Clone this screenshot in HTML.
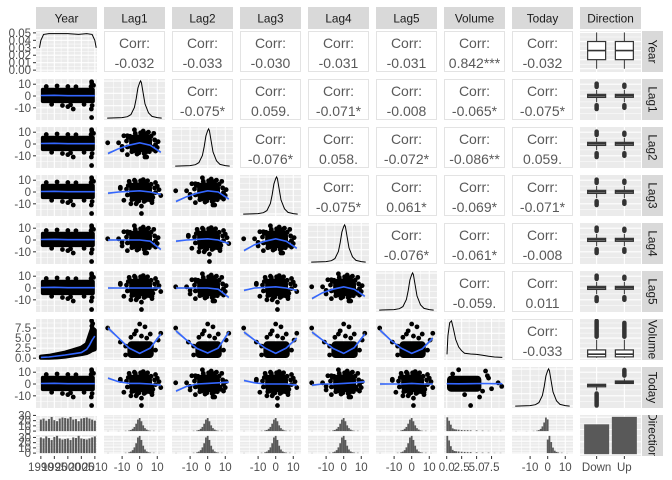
<!DOCTYPE html>
<html><head><meta charset="utf-8">
<style>
body{margin:0;background:#fff;}
svg{display:block;font-family:"Liberation Sans",Arial,sans-serif;}
</style></head>
<body>
<svg id="chart" width="672" height="480" viewBox="0 0 672 480"></svg>
<script>
// ---------- data ----------
const varNames = ['Year','Lag1','Lag2','Lag3','Lag4','Lag5','Volume','Today','Direction'];
const corrTop = [
 [null,'-0.032','-0.033','-0.030','-0.031','-0.031','0.842***','-0.032'],
 [null,null,'-0.075*','0.059.','-0.071*','-0.008','-0.065*','-0.075*'],
 [null,null,null,'-0.076*','0.058.','-0.072*','-0.086**','0.059.'],
 [null,null,null,null,'-0.075*','0.061*','-0.069*','-0.071*'],
 [null,null,null,null,null,'-0.076*','-0.061*','-0.008'],
 [null,null,null,null,null,null,'-0.059.','0.011'],
 [null,null,null,null,null,null,null,'-0.033']
];
const yearDensX = [1989.5,1990,1991,1993,1996,2000,2004,2007,2009,2010,2010.5];
const yearDensY = [0.030,0.040,0.048,0.049,0.049,0.049,0.048,0.049,0.048,0.040,0.030];
const lagDensX = [-18.5,-10,-7,-5,-3,-2,-1,0,0.5,1,2,3,5,7,10,12.5];
const lagDensY = [0,0.003,0.008,0.02,0.06,0.11,0.17,0.2,0.21,0.2,0.14,0.08,0.03,0.01,0.003,0];
const volDensX = [0.05,0.2,0.5,0.8,1.1,1.5,2,2.5,3,4,5,6,7,8,9.3];
const volDensY = [0.1,0.6,0.95,1.0,0.8,0.5,0.3,0.2,0.13,0.11,0.1,0.08,0.05,0.03,0.02];
const smoothLagX = [-18,-12,-6,0,6,12];
const smoothLagLag = {
 '2-1':[-8,-4,-1,1,-1,-7],
 '3-1':[-1,0,0.5,1,0,-2], '3-2':[-8,-4,-1,1,0,-6],
 '4-1':[0,0,0,0,-1,-8], '4-2':[-1,0,0.5,1,0,-3], '4-3':[-9,-4,-1,1,-1,-7],
 '5-1':[0,0,0,0,0,0], '5-2':[0,0,0,0,-1,-8], '5-3':[-2,0,0.5,1,0,-2], '5-4':[-9,-4,-1,1,-1,-7],
 '7-1':[5,2,0.5,0.5,0,-1], '7-2':[-6,-2,0,0.5,1,1.5], '7-3':[3,1,0,0,0,-1], '7-4':[-1,0,0,0.5,1,2], '7-5':[0,0,0,0.5,0,0]
};
const smoothVolLag = {
 '1':[7.5,5,2.5,1.2,2.5,6], '2':[6.8,4.5,2.4,1.3,2.5,6.5], '3':[6.5,4.5,2.5,1.2,2.5,5],
 '4':[6.5,4.5,2.4,1.2,2.6,6], '5':[7,4.5,2.5,1.2,2.3,5]
};
const yearsX = [1990,1993,1996,1999,2002,2005,2007,2008,2009,2010];
const volLo = [0.09,0.1,0.2,0.4,0.7,1.0,1.3,1.6,2.0,2.2];
const volHi = [0.4,0.6,1.0,1.4,2.0,2.6,3.5,5.5,7.5,7];
const volSmooth = [0.2,0.3,0.55,0.8,1.1,1.4,2.2,3.2,4.5,5.5];
const lagOutliers = [[-18.2,1],[12,-3],[10.5,2],[-11,3],[8,9],[-9,-7],[9,-6],[1,-12],[2,11],[-3,10],[-7,7],[7,-9],[-10,-2],[10,5],[4,-11],[-5,-10]];
const blobEdge = [[-8,2],[-7.5,-3],[-6,6],[-5,-7],[-3,8.5],[0,9],[2,8],[4,9],[6,6],[8,3],[8.5,-1],[7,-5],[5,-7],[2,-8.5],[-1,-8],[-4,-6.5],[-7,5],[3,-7.5],[6.5,-3],[-2,-9]];
const yearOutliers = [[2008.8,-18.2],[2008.8,12],[2008.9,10.5],[2008.7,-11],[2002,-11],[2000,-9],[2008.6,8],[1998,-8],[2009.5,9]];
const yrDown = [22,24,20,23,27,21,19,24,26,25,24,27,22,23,19,24,25,26,24,22,20];
const yrUp = [30,28,32,29,25,31,33,28,26,27,28,25,30,29,33,28,27,26,28,30,32];
const lagBins = [-18,-12,-8,-6,-5,-4,-3,-2,-1,0,1,2,3,4,5,6,8,11];
const lagHistDown = [1,1,2,4,7,14,25,45,70,80,60,35,18,9,4,2,2,1];
const lagHistUp   = [1,0,2,5,9,18,35,60,95,105,80,45,22,10,5,3,2,1];
const todayHistDown = [1,1,2,4,8,18,38,70,110,95,0,0,0,0,0,0,0,0];
const todayHistUp   = [0,0,0,0,0,0,0,0,0,110,140,90,45,20,10,5,3,1];
const volBins = [0.1,0.4,0.7,1.0,1.3,1.6,2.0,2.5,3,3.5,4,5,6,7,8,9];
const volHistDown = [60,45,28,12,8,7,6,5,4,4,3,3,2,1,1,1];
const volHistUp   = [75,55,30,14,9,8,7,6,5,4,4,3,2,2,1,1];
const dirCounts = [484,605];
// box stats: [lowWhisker,q1,median,q3,highWhisker,minOut,maxOut]
const boxYearDown = [1990,1995,2000,2005,2010,null,null];
const boxYearUp = [1990,1995,2000,2005,2010,null,null];
const boxLagDown = [-5.3,-1.2,0.2,1.4,5.2,-11,10.5];
const boxLagUp = [-5.3,-1.1,0.25,1.4,5.3,-10,9.5];
const boxVolDown = [0.09,0.33,1.0,2.05,4.6,4.8,9.3];
const boxVolUp = [0.09,0.33,1.0,2.05,4.6,4.8,8.8];
const boxTodayDown = [-5.5,-2.1,-1.2,-0.5,0,-18.2,-6];
const boxTodayUp = [0,0.7,1.4,2.3,4.6,5,12];
const dirs = ['Down','Up'];

// ---------- layout ----------
const NS='http://www.w3.org/2000/svg';
const svg=document.getElementById('chart');
const X0=36, PW=61, PITCH=68, Y0=31, PH=41, RP=48;
const colX=i=>X0+i*PITCH, rowY=i=>Y0+i*RP;
const doms={Year:[1988.2,2010.8],Lag:[-20.3,14.4],Volume:[-0.45,9.75],Direction:[0.4,2.6]};
const domOf=v=>(v.startsWith('Lag')||v==='Today')?doms.Lag:doms[v];
function mk(tag,attrs,parent){const e=document.createElementNS(NS,tag);for(const k in attrs)e.setAttribute(k,attrs[k]);(parent||svg).appendChild(e);return e;}
function lin(d,r0,r1){return v=>r0+(v-d[0])/(d[1]-d[0])*(r1-r0);}
function ticksFor(v){
 if(v==='Year')return {maj:[1990,1995,2000,2005,2010],min:[1992.5,1997.5,2002.5,2007.5],lab:['1990','1995','2000','2005','2010']};
 if(v==='Volume')return {maj:[0,2.5,5,7.5],min:[1.25,3.75,6.25,8.75],lab:['0.0','2.5','5.0','7.5']};
 if(v==='Direction')return {maj:[1,2],min:[],lab:['Down','Up']};
 return {maj:[-10,0,10],min:[-15,-5,5],lab:['-10','0','10']};
}
function panelBg(g,x,y,w,h,vx,vy,sx,sy){
 mk('rect',{x:x,y:y,width:w,height:h,fill:'#ebebeb'},g);
 if(vx){const t=ticksFor(vx);t.min.forEach(v=>mk('line',{x1:sx(v),x2:sx(v),y1:y,y2:y+h,stroke:'#fff','stroke-width':0.5},g));t.maj.forEach(v=>mk('line',{x1:sx(v),x2:sx(v),y1:y,y2:y+h,stroke:'#fff','stroke-width':1.1},g));}
 if(vy){let mj,mn;if(Array.isArray(vy)){mj=vy[0];mn=vy[1];}else{const t=ticksFor(vy);mj=t.maj;mn=t.min;}
  mn.forEach(v=>mk('line',{x1:x,x2:x+w,y1:sy(v),y2:sy(v),stroke:'#fff','stroke-width':0.5},g));mj.forEach(v=>mk('line',{x1:x,x2:x+w,y1:sy(v),y2:sy(v),stroke:'#fff','stroke-width':1.1},g));}
}
function clip(id,x,y,w,h){const cp=mk('clipPath',{id:id});mk('rect',{x:x,y:y,width:w,height:h},cp);return 'url(#'+id+')';}
function pathD(xs,ys,sx,sy){return xs.map((v,i)=>(i?'L':'M')+sx(v).toFixed(1)+','+sy(ys[i]).toFixed(1)).join('');}
function smoothPath(g,xs,ys,sx,sy,band){
 const up=xs.map((v,i)=>ys[i]+band*(i===0||i===xs.length-1?1:0.3));
 const lo=xs.map((v,i)=>ys[i]-band*(i===0||i===xs.length-1?1:0.3));
 const d=pathD(xs,up,sx,sy)+xs.slice().reverse().map((v,i)=>'L'+sx(v).toFixed(1)+','+sy(lo[xs.length-1-i]).toFixed(1)).join('')+'Z';
 const rb=mk('path',{d:d,fill:'#999','fill-opacity':0.4},g);
 
 
 const ln=mk('path',{d:pathD(xs,ys,sx,sy),fill:'none',stroke:'#3366FF','stroke-width':1.6},g);
 
 
}
function dot(g,x,y,r){const c=mk('circle',{cx:x,cy:y,r:r||2.4,fill:'#000'},g);return c;}
function lagBlob(g,sx,sy,cx,cy,kx,ky){
 mk('rect',{x:sx(cx-6.5*kx),y:sy(cy+7.5*ky),width:sx(cx+6.5*kx)-sx(cx-6.5*kx),height:sy(cy-7.5*ky)-sy(cy+7.5*ky),rx:5,fill:'#000'},g);
 blobEdge.forEach(p=>dot(g,sx(cx+p[0]*kx),sy(cy+p[1]*ky)));
}

// strips
for(let c=0;c<9;c++){
 const g=mk('g',{});
 
 
 mk('rect',{x:colX(c),y:7,width:PW,height:22,fill:'#d9d9d9'},g);
 const t=mk('text',{x:colX(c)+PW/2,y:22.5,'text-anchor':'middle','font-size':11.8,fill:'#1a1a1a'},g);t.textContent=varNames[c];
}
for(let r=0;r<9;r++){
 const g=mk('g',{});
 
 
 const cp=clip('rs'+r,642,rowY(r),21,PH);
 mk('rect',{x:642,y:rowY(r),width:21,height:PH,fill:'#d9d9d9'},g);
 const gg=mk('g',{'clip-path':cp},g);
 const cy=rowY(r)+PH/2;
 const t=mk('text',{x:652.5,y:cy,'text-anchor':'middle','font-size':11.8,fill:'#1a1a1a',transform:'rotate(90 652.5 '+cy+')','dominant-baseline':'central'},gg);t.textContent=varNames[r];
}

// panels
for(let r=0;r<9;r++)for(let c=0;c<9;c++){
 const x=colX(c),y=rowY(r),vx=varNames[c],vy=varNames[r];
 const g=mk('g',{});
 
 
 const gc=mk('g',{'clip-path':clip('p'+r+'-'+c,x,y,PW,PH)},g);
 const sx=lin(domOf(vx),x,x+PW), sy=lin(domOf(vy),y+PH,y);
 if(r<c && c<8){ // correlation
  mk('rect',{x:x+0.5,y:y+0.5,width:PW-1,height:PH-1,fill:'#fff',stroke:'#e3e3e3','stroke-width':1},g);
  const t1=mk('text',{x:x+PW/2,y:y+17,'text-anchor':'middle','font-size':14,fill:'#595959'},g);t1.textContent='Corr:';
  
  const t2=mk('text',{x:x+PW/2,y:y+37,'text-anchor':'middle','font-size':14,fill:'#595959'},g);t2.textContent=corrTop[r][c];
  
  continue;
 }
 if(r===c && r<8){ // density
  let xs,ys,d;
  if(vx==='Year'){xs=yearDensX;ys=yearDensY;d=[-0.0025,0.0525];}
  else if(vx==='Volume'){xs=volDensX;ys=volDensY;d=[-0.05,1.05];}
  else{xs=lagDensX;ys=lagDensY;d=[-0.0105,0.2205];}
  const syd=lin(d,y+PH,y);
  const grid=vx==='Year'?[[0,0.01,0.02,0.03,0.04,0.05],[0.005,0.015,0.025,0.035,0.045]]:[[d[0]+(d[1]-d[0])*0.05,d[0]+(d[1]-d[0])*0.35,d[0]+(d[1]-d[0])*0.65,d[0]+(d[1]-d[0])*0.95],[d[0]+(d[1]-d[0])*0.2,d[0]+(d[1]-d[0])*0.5,d[0]+(d[1]-d[0])*0.8]];
  panelBg(gc,x,y,PW,PH,vx,grid,sx,syd);
  const p=mk('path',{d:pathD(xs,ys,sx,syd),fill:'none',stroke:'#000','stroke-width':1},gc);
  
  continue;
 }
 if(c===8){ // boxplots / bar
  if(r===8){
   const syb=lin([-30,635],y+PH,y);
   panelBg(gc,x,y,PW,PH,'Direction',[[0,200,400,600],[100,300,500]],sx,syb);
   dirCounts.forEach((n,i)=>{const b=mk('rect',{x:sx(i+1)-12.5,y:syb(n),width:25,height:syb(0)-syb(n),fill:'#595959'},gc);
    });
   continue;
  }
  panelBg(gc,x,y,PW,PH,'Direction',vy,sx,sy);
  let bs;
  if(vy==='Year')bs=[boxYearDown,boxYearUp];else if(vy==='Volume')bs=[boxVolDown,boxVolUp];else if(vy==='Today')bs=[boxTodayDown,boxTodayUp];else bs=[boxLagDown,boxLagUp];
  bs.forEach((b,i)=>{
   const cx=sx(i+1),bg=mk('g',{},gc);
   
   mk('line',{x1:cx,x2:cx,y1:sy(b[0]),y2:sy(b[4]),stroke:'#333','stroke-width':1},bg);
   if(b[5]!==null){
    if(b[6]>b[4])mk('line',{x1:cx,x2:cx,y1:sy(b[4])-3,y2:sy(b[6]),stroke:'#333','stroke-width':4.5,'stroke-linecap':'round'},bg);
    if(b[5]<b[0])mk('line',{x1:cx,x2:cx,y1:sy(b[0])+3,y2:sy(b[5]),stroke:'#333','stroke-width':4.5,'stroke-linecap':'round'},bg);
   }
   const h=Math.max(sy(b[1])-sy(b[3]),2.5);
   mk('rect',{x:cx-9,y:sy(b[3])-(h-(sy(b[1])-sy(b[3])))/2,width:18,height:h,fill:'#fff',stroke:'#333','stroke-width':1.2},bg);
   mk('line',{x1:cx-9,x2:cx+9,y1:sy(b[2]),y2:sy(b[2]),stroke:'#333','stroke-width':1.6},bg);
  });
  continue;
 }
 if(r===8){ // histograms by direction, two facets
  const fh=19;
  let bins,hd,hu,bw;
  if(vx==='Year'){bins=yrDown.map((_,i)=>1990+i);hd=yrDown;hu=yrUp;bw=0.75;}
  else if(vx==='Volume'){bins=volBins;hd=volHistDown;hu=volHistUp;bw=0.3;}
  else if(vx==='Today'){bins=lagBins;hd=todayHistDown;hu=todayHistUp;bw=1;}
  else{bins=lagBins;hd=lagHistDown;hu=lagHistUp;bw=1;}
  const mx=Math.max(...hd,...hu)*1.05;
  [hd,hu].forEach((arr,f)=>{
   const fy=y+f*(fh+3)-2,syh=lin([-mx*0.05,mx],fy+fh,fy);
   const fg=mk('g',{},gc);
   
   const gm=vx==='Year'?[[0,10,20,30],[5,15,25]]:[[0,mx*0.33,mx*0.66,mx*0.99],[mx*0.16,mx*0.5,mx*0.83]];
   panelBg(fg,x,fy,PW,fh,vx,gm,sx,syh);
   arr.forEach((n,i)=>{if(n<=0)return;const bx=sx(bins[i]-bw/2);
    mk('rect',{x:bx,y:syh(n),width:Math.max(sx(bins[i]+bw/2)-bx,1),height:syh(0)-syh(n),fill:'#595959'},fg);});
  });
  continue;
 }
 // scatter panels
 panelBg(gc,x,y,PW,PH,vx,vy,sx,sy);
 const sc=mk('g',{},gc);
 
 if(vx==='Year'){
  if(vy==='Volume'){
   const d=pathD(yearsX,volHi,sx,sy)+yearsX.slice().reverse().map((v,i)=>'L'+sx(v).toFixed(1)+','+sy(volLo[yearsX.length-1-i]).toFixed(1)).join('')+'Z';
   mk('path',{d:d,fill:'#000',stroke:'#000','stroke-width':4,'stroke-linejoin':'round'},sc);
   dot(sc,sx(2008.8),sy(9.3));dot(sc,sx(2009.2),sy(8.6));dot(sc,sx(2008.9),sy(8));
   smoothPath(gc,yearsX,volSmooth,sx,sy,0.1);
  } else {
   mk('rect',{x:sx(1990),y:sy(7),width:sx(2010)-sx(1990),height:sy(-6)-sy(7),rx:2,fill:'#000'},sc);
   [[1992,8],[1996,8.5],[2000,8],[2003,7.8],[1994,-7],[2001,-7.5],[2006,-7],[2009,-8]].forEach(p=>dot(sc,sx(p[0]),sy(p[1])));
   yearOutliers.forEach(p=>dot(sc,sx(p[0]),sy(p[1])));
   smoothPath(gc,[1990,1995,2000,2005,2010],[0.4,0.6,0.3,0.3,0.3],sx,sy,0.2);
  }
  continue;
 }
 if(vx==='Volume'){ // Today vs Volume
  mk('rect',{x:sx(0.05),y:sy(7),width:sx(5.8)-sx(0.05),height:sy(-6.5)-sy(7),rx:4,fill:'#000'},sc);
  [[6,-6],[7,5],[8.6,1],[9.2,-2],[5.5,-11],[6.5,11],[4,-18.2],[2,12],[6.8,7],[7.5,-4],[3,-9],[1,8.5]].forEach(p=>dot(sc,sx(p[0]),sy(p[1])));
  smoothPath(gc,[0,2,4,6,8,9.3],[0.3,0.2,0.3,0.4,0.3,0.3],sx,sy,0.4);
  continue;
 }
 if(vy==='Volume'){
  mk('rect',{x:sx(-7),y:sy(4.2),width:sx(8)-sx(-7),height:sy(0.05)-sy(4.2),rx:4,fill:'#000'},sc);
  [[-18.2,7.5],[12,6.2],[10.5,4.5],[-11,4],[-8,0.8],[0,8.5],[3,7.8],[-2,6.8],[6,6],[-5,5.2],[1,5.5],[4,5],[-8,3],[9,2],[-3,6]].forEach(p=>dot(sc,sx(p[0]),sy(p[1])));
  smoothPath(gc,smoothLagX,smoothVolLag[String(c)],sx,sy,0.6);
  continue;
 }
 lagBlob(sc,sx,sy,0.5,0.5,1,1);
 lagOutliers.forEach((p,i)=>{const k=(r+c+i)%2;dot(sc,sx(k?p[0]:p[1]),sy(k?p[1]:p[0]));});
 smoothPath(gc,smoothLagX,smoothLagLag[r+'-'+c],sx,sy,1.2);
}

// left axis
const ax=mk('g',{});

for(let r=0;r<9;r++){
 const y=rowY(r);let vals,labs,sy;
 if(r===0){vals=[0,0.01,0.02,0.03,0.04,0.05];labs=['0.00','0.01','0.02','0.03','0.04','0.05'];sy=lin([-0.0025,0.0525],y+PH,y);}
 else if(r===8){
  const mx=Math.max(...yrDown,...yrUp)*1.05;
  [0,1].forEach(f=>{const fy=y+f*22-2,s=lin([-mx*0.05,mx],fy+19,fy);[0,10,20,30].forEach(v=>{
   mk('line',{x1:33,x2:36,y1:s(v),y2:s(v),stroke:'#333','stroke-width':1},ax);
   const t=mk('text',{x:31,y:s(v)+4,'text-anchor':'end','font-size':11.5,fill:'#4d4d4d'},ax);t.textContent=String(v);});});
  continue;
 }
 else{const t=ticksFor(varNames[r]);vals=t.maj;labs=t.lab;sy=lin(domOf(varNames[r]),y+PH,y);}
 vals.forEach((v,i)=>{mk('line',{x1:33,x2:36,y1:sy(v),y2:sy(v),stroke:'#333','stroke-width':1},ax);
  const t=mk('text',{x:31,y:sy(v)+4,'text-anchor':'end','font-size':11.5,fill:'#4d4d4d'},ax);t.textContent=labs[i];});
}
// bottom axis
const bx=mk('g',{});

for(let c=0;c<9;c++){
 const t=ticksFor(varNames[c]),sx=lin(domOf(varNames[c]),colX(c),colX(c)+PW);
 t.maj.forEach((v,i)=>{mk('line',{x1:sx(v),x2:sx(v),y1:456,y2:459,stroke:'#333','stroke-width':1},bx);
  const tx=mk('text',{x:sx(v),y:471,'text-anchor':'middle','font-size':11.5,fill:'#4d4d4d'},bx);tx.textContent=t.lab[i];});
}
</script>
</body></html>
